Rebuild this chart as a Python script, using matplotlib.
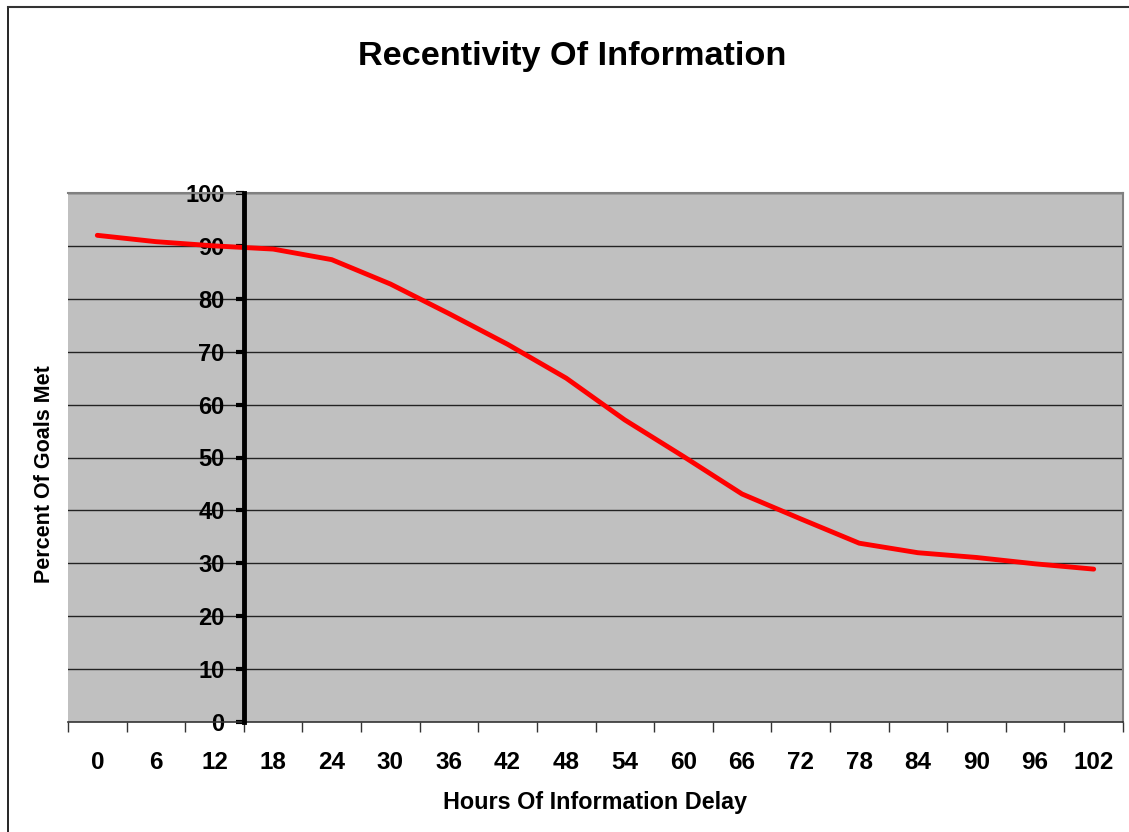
import matplotlib.pyplot as plt
from matplotlib.lines import Line2D
import numpy as np

plt.rcParams['font.family'] = ['Liberation Sans', 'DejaVu Sans']
plt.rcParams['font.weight'] = 'bold'

# hours of delay (categories) and percent of goals met
hours = [0, 6, 12, 18, 24, 30, 36, 42, 48, 54, 60, 66, 72, 78, 84, 90, 96, 102]
percent_met = [92, 90.8, 90, 89.4, 87.4, 82.8, 77.2, 71.4, 65, 57.1, 50.2,
               43.1, 38.4, 33.8, 32, 31.1, 29.9, 28.9]
y_ticks = [0, 10, 20, 30, 40, 50, 60, 70, 80, 90, 100]

W, H = 1129, 832
fig = plt.figure(figsize=(W / 100, H / 100), dpi=100)

# outer chart border (top + left)
fig.add_artist(Line2D([8 / W, 8 / W], [0, 1 - 7 / H], color='black', lw=1.2, transform=fig.transFigure))
fig.add_artist(Line2D([8 / W, 1], [1 - 7 / H, 1 - 7 / H], color='#333333', lw=1.5, transform=fig.transFigure))

ax = fig.add_axes([68 / W, 1 - 722 / H, (1123 - 68) / W, (722 - 193) / H])
ax.set_facecolor('#c0c0c0')

x = np.arange(len(hours))
ax.plot(x, percent_met, color='#ff0000', lw=3.5, solid_capstyle='round', zorder=5)

ax.set_xlim(-0.5, len(hours) - 0.5)
ax.set_ylim(0, 100)

# gridlines
for v in y_ticks[1:]:
    ax.axhline(v, color='#222222', lw=1, zorder=1)

# y axis crosses between 12 and 18
ax.spines['left'].set_position(('data', 2.5))
ax.spines['left'].set_linewidth(3.5)
ax.spines['left'].set_color('black')
ax.spines['left'].set_zorder(6)
for s in ['top', 'right']:
    ax.spines[s].set_color('#808080')
    ax.spines[s].set_linewidth(1.5)
ax.spines['bottom'].set_color('#333333')
ax.spines['bottom'].set_linewidth(1.2)

ax.set_yticks(y_ticks)
ax.set_yticklabels([str(v) for v in y_ticks], fontsize=17, fontweight='bold')
ax.tick_params(axis='y', direction='out', length=6, width=3, pad=8)

ax.set_xticks(x)
ax.set_xticklabels([str(h) for h in hours], fontsize=17.5, fontweight='bold')
ax.set_xticks(np.arange(-0.5, len(hours)), minor=True)
ax.tick_params(axis='x', which='major', length=0, pad=21)
ax.tick_params(axis='x', which='minor', length=7, width=1, color='#333333')

fig.text(572 / W, 1 - 56 / H, 'Recentivity Of Information', fontsize=24.7,
         fontweight='bold', ha='center', va='center')
fig.text(595 / W, 1 - 802 / H, 'Hours Of Information Delay', fontsize=16.8,
         fontweight='bold', ha='center', va='center')
fig.text(45 / W, 1 - 474 / H, 'Percent Of Goals Met', fontsize=15.5,
         fontweight='bold', ha='center', va='center', rotation=90)

fig.savefig('out.png', dpi=100)
